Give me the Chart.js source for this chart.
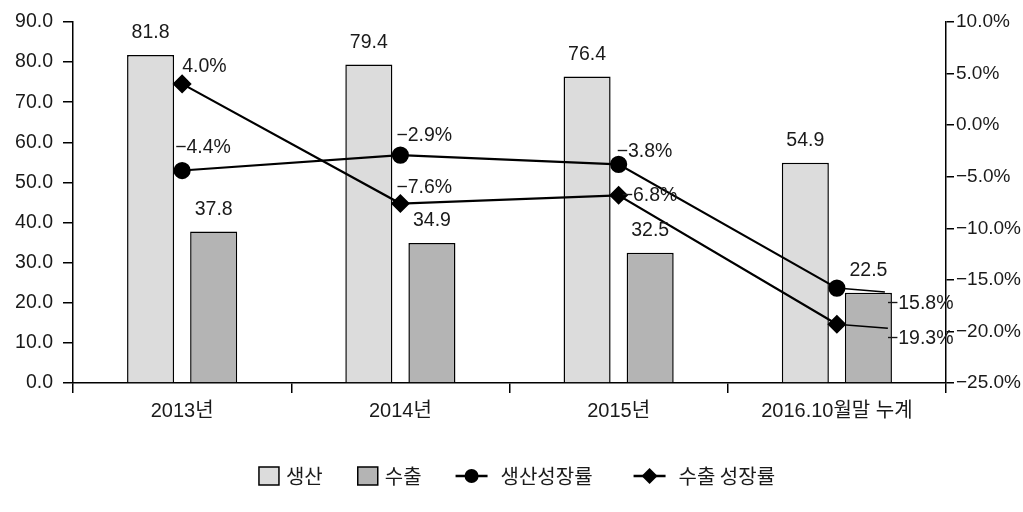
<!DOCTYPE html>
<html>
<head>
<meta charset="utf-8">
<script src="https://cdn.jsdelivr.net/npm/chart.js@4.4.0/dist/chart.umd.min.js"></script>
<style>
html, body { margin: 0; padding: 0; background: #ffffff; }
</style>
</head>
<body>
<canvas id="chart" width="1023" height="512"></canvas>
<script>
const categories = ['2013년', '2014년', '2015년', '2016.10월말 누계'];
const production = [81.8, 79.4, 76.4, 54.9];
const exportsVol = [37.8, 34.9, 32.5, 22.5];
const productionGrowth = [-4.4, -2.9, -3.8, -15.8];
const exportGrowth = [4.0, -7.6, -6.8, -19.3];
const seriesNames = ['생산', '수출', '생산성장률', '수출 성장률'];

const NUM_FONT = "'Liberation Sans', 'Noto Sans CJK KR', sans-serif";
const KR_FONT = "'Noto Sans CJK KR', sans-serif";
const TEXT = '#1a1a1a';

// minus sign like the original (long dash)
function fmt(v, digits) {
    return (v < 0 ? '−' : '') + Math.abs(v).toFixed(digits);
}

// value labels + leader lines for the last growth points
const labelPlugin = {
    id: 'valueLabels',
    afterDatasetsDraw(chart) {
        const ctx = chart.ctx;
        ctx.save();
        ctx.font = '19.5px ' + NUM_FONT;
        ctx.fillStyle = TEXT;
        ctx.textBaseline = 'middle';

        // bar labels, centered above each bar
        [0, 1].forEach(di => {
            const meta = chart.getDatasetMeta(di);
            meta.data.forEach((el, i) => {
                ctx.textAlign = 'center';
                ctx.fillText(chart.data.datasets[di].data[i].toFixed(1), el.x, el.y - 22);
            });
        });

        // growth labels, offset from each point (dx to left edge, dy to middle)
        const offsets = {
            2: [[-7, -23], [-4, -19], [-2, -13], [50, 16]],
            3: [[0, -17], [-4, -16], [3, 0], [50, 14]]
        };
        const leaders = { 2: [48, 4], 3: [51, 4] };
        [2, 3].forEach(di => {
            const meta = chart.getDatasetMeta(di);
            meta.data.forEach((el, i) => {
                const [dx, dy] = offsets[di][i];
                if (i === meta.data.length - 1) {
                    ctx.strokeStyle = '#000';
                    ctx.lineWidth = 1.5;
                    ctx.beginPath();
                    ctx.moveTo(el.x, el.y);
                    ctx.lineTo(el.x + leaders[di][0], el.y + leaders[di][1]);
                    ctx.stroke();
                }
                ctx.textAlign = 'left';
                ctx.fillText(fmt(chart.data.datasets[di].data[i], 1) + '%', el.x + dx, el.y + dy);
            });
        });
        ctx.restore();
    }
};

// legend at the bottom, drawn by hand so the line items show line + marker
const legendPlugin = {
    id: 'bottomLegend',
    afterDraw(chart) {
        const ctx = chart.ctx;
        const y = 476;
        ctx.save();
        ctx.font = '20px ' + KR_FONT;
        ctx.textBaseline = 'middle';
        ctx.textAlign = 'left';
        const items = [
            { type: 'box', color: '#dcdcdc', gap: 35 },
            { type: 'box', color: '#b4b4b4', gap: 34 },
            { type: 'circle', gap: 41 },
            { type: 'diamond', gap: 0 }
        ];
        let total = 0;
        items.forEach((it, i) => {
            it.sym = it.type === 'box' ? 20 : 32;
            it.pad = it.type === 'box' ? 7 : 13;
            it.w = ctx.measureText(seriesNames[i]).width;
            total += it.sym + it.pad + it.w + it.gap;
        });
        let x = 517 - total / 2;
        items.forEach((it, i) => {
            ctx.strokeStyle = '#000';
            ctx.fillStyle = '#000';
            if (it.type === 'box') {
                ctx.fillStyle = it.color;
                ctx.lineWidth = 1.5;
                ctx.fillRect(x, y - 9, 20, 18);
                ctx.strokeRect(x, y - 9, 20, 18);
            } else {
                ctx.lineWidth = 2.5;
                ctx.beginPath();
                ctx.moveTo(x, y);
                ctx.lineTo(x + 32, y);
                ctx.stroke();
                ctx.beginPath();
                const cx = x + 16;
                if (it.type === 'circle') {
                    ctx.arc(cx, y, 7, 0, Math.PI * 2);
                } else {
                    ctx.moveTo(cx, y - 8);
                    ctx.lineTo(cx + 8, y);
                    ctx.lineTo(cx, y + 8);
                    ctx.lineTo(cx - 8, y);
                    ctx.closePath();
                }
                ctx.fill();
            }
            ctx.fillStyle = TEXT;
            ctx.fillText(seriesNames[i], x + it.sym + it.pad, y);
            x += it.sym + it.pad + it.w + it.gap;
        });
        ctx.restore();
    }
};

const axisGrid = {
    drawOnChartArea: false,
    drawTicks: true,
    color: '#000',
    lineWidth: 1.5
};

new Chart(document.getElementById('chart'), {
    type: 'bar',
    data: {
        labels: categories,
        datasets: [
            {
                label: seriesNames[0],
                data: production,
                backgroundColor: '#dcdcdc',
                borderColor: '#000',
                borderWidth: 1.5,
                categoryPercentage: 0.578,
                barPercentage: 0.746,
                yAxisID: 'y',
                order: 2
            },
            {
                label: seriesNames[1],
                data: exportsVol,
                backgroundColor: '#b4b4b4',
                borderColor: '#000',
                borderWidth: 1.5,
                categoryPercentage: 0.578,
                barPercentage: 0.746,
                yAxisID: 'y',
                order: 2
            },
            {
                type: 'line',
                label: seriesNames[2],
                data: productionGrowth,
                borderColor: '#000',
                backgroundColor: '#000',
                borderWidth: 2.2,
                pointStyle: 'circle',
                pointRadius: 7.5,
                tension: 0,
                yAxisID: 'y2',
                order: 1
            },
            {
                type: 'line',
                label: seriesNames[3],
                data: exportGrowth,
                borderColor: '#000',
                backgroundColor: '#000',
                borderWidth: 2.2,
                pointStyle: 'rectRot',
                pointRadius: 8,
                tension: 0,
                yAxisID: 'y2',
                order: 1
            }
        ]
    },
    options: {
        responsive: false,
        animation: false,
        layout: { padding: { top: 22, left: 0, right: 0, bottom: 0 } },
        scales: {
            x: {
                grid: { ...axisGrid, offset: true, tickLength: 10 },
                border: { color: '#000', width: 1.5 },
                ticks: { color: TEXT, font: { family: NUM_FONT, size: 20 }, padding: 6 },
                afterFit: s => { s.height = 129; }
            },
            y: {
                position: 'left',
                min: 0,
                max: 90,
                grid: { ...axisGrid, tickLength: 10 },
                border: { color: '#000', width: 1.5 },
                ticks: {
                    stepSize: 10,
                    padding: 10,
                    color: TEXT,
                    font: { family: NUM_FONT, size: 19.5 },
                    callback: v => v.toFixed(1)
                },
                afterFit: s => { s.width = 73; }
            },
            y2: {
                position: 'right',
                min: -25,
                max: 10,
                grid: { ...axisGrid, tickLength: 8 },
                border: { color: '#000', width: 1.5 },
                ticks: {
                    stepSize: 5,
                    padding: 2,
                    color: TEXT,
                    font: { family: NUM_FONT, size: 19 },
                    callback: v => fmt(v, 1) + '%'
                },
                afterFit: s => { s.width = 77; }
            }
        },
        plugins: {
            legend: { display: false },
            tooltip: { enabled: false }
        }
    },
    plugins: [labelPlugin, legendPlugin]
});
</script>
</body>
</html>
